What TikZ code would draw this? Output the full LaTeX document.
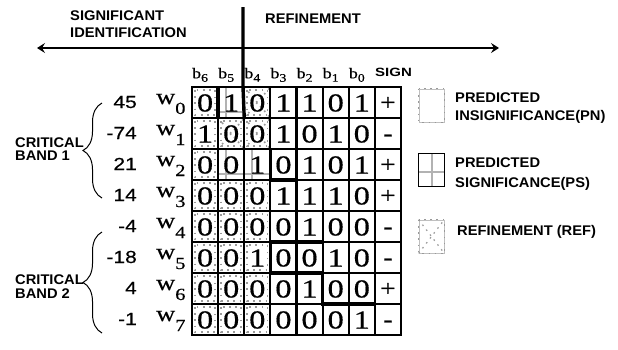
\documentclass[tikz,border=0pt]{standalone}
\usepackage{fontspec}
\usetikzlibrary{arrows.meta,decorations.pathreplacing}
\newfontfamily\labfont[FakeStretch=1.05]{Liberation Sans Bold}
\newfontfamily\signlabfont[FakeStretch=1.25]{Liberation Sans Bold}
\newfontfamily\numfont[FakeStretch=1.2,FakeBold=0.4]{Liberation Sans}
\newfontfamily\serfont[FakeStretch=1.2,FakeBold=0.5]{Liberation Serif}
\newfontfamily\digfont[FakeStretch=1.25,FakeBold=0.5]{Liberation Serif}
\newcommand\bitrow[3]{%
  \foreach \v [count=\c from 0] in {#2} {%
    \node[dig] (d#1-\c) at ({192+(\c+0.5)*26.125},{87+(#1+0.5)*31+9}) {\v};}%
  \node[sgn] (s#1) at ({192+7.5*26.125},{87+(#1+0.5)*31+7.5}) {#3};}
\newcommand\wlab[2]{{\serfont\fontsize{22}{22}\selectfont w\raisebox{-10pt}{\fontsize{17}{17}\selectfont #2}}}
\newcommand\blab[1]{{\serfont\fontsize{15}{15}\selectfont b\raisebox{-3.4pt}{\fontsize{11.5}{11.5}\selectfont #1}}}
\begin{document}
\begin{tikzpicture}[x=1pt,y=-1pt,
  grid/.style={line width=2.2pt, black},
  emph/.style={line width=3.4pt, black},
  pn/.style={gray!80, line width=1.6pt, dash pattern=on 1.6pt off 4.6pt},
  ps/.style={gray!60, line width=2.4pt},
  lab/.style={font=\labfont\fontsize{14}{14}\selectfont, inner sep=0pt, anchor=base west},
  dig/.style={font=\digfont\fontsize{26}{26}\selectfont, inner sep=0pt, anchor=base},
  sgn/.style={font=\serfont\fontsize{23}{23}\selectfont, inner sep=0pt, anchor=base},
  num/.style={font=\numfont\fontsize{17.5}{17.5}\selectfont, inner sep=0pt, anchor=base east},
  wnode/.style={inner sep=0pt, anchor=base west},
  bnode/.style={inner sep=0pt, anchor=base},
  brc/.style={decorate, decoration={brace, amplitude=19pt}, line width=1pt},
  legbox/.style={minimum width=25pt, minimum height=33pt, inner sep=0pt}
]
\useasboundingbox (0,0) rectangle (618,349);
\fill[white] (0,0) rectangle (618,349);

% top labels and arrow
\node[lab] (sig1) at (70,20) {SIGNIFICANT};
\node[lab] (sig2) at (70,37) {IDENTIFICATION};
\node[lab] (refl) at (265,23) {REFINEMENT};
\coordinate (aL) at (37,48);
\coordinate (aR) at (499,48);
\draw[line width=1.4pt, {Stealth[length=8pt,width=10pt,inset=3pt]}-{Stealth[length=8pt,width=10pt,inset=3pt]}] (aL) -- (aR);

% cell patterns
\foreach \c/\r in {0/0,0/1,0/2,0/3,0/4,0/5,0/6,0/7,1/3,1/4,1/5,1/6,1/7,2/3,2/4,2/5,2/6,2/7,2/0,1/1,2/1}
  \draw[pn] ({192+\c*26.125+3},{87+\r*31+3}) rectangle ({192+(\c+1)*26.125-3},{87+(\r+1)*31-3});
\foreach \c/\r in {2/0,1/1,2/1}
  \draw[pn] ({192+\c*26.125},{87+\r*31}) -- ({192+(\c+1)*26.125},{87+(\r+1)*31})
            ({192+\c*26.125},{87+(\r+1)*31}) -- ({192+(\c+1)*26.125},{87+\r*31});
\foreach \c/\r in {1/0,1/2,2/2}
  \draw[ps] ({192+(\c+0.3)*26.125},{87+\r*31}) -- ({192+(\c+0.3)*26.125},{87+(\r+1)*31})
            ({192+\c*26.125},{87+(\r+0.8)*31}) -- ({192+(\c+1)*26.125},{87+(\r+0.8)*31});

% grid
\foreach \c in {0,...,8}
  \draw[grid] ({192+\c*26.125},87) -- ({192+\c*26.125},335);
\foreach \r in {0,...,8}
  \draw[grid] (191,{87+\r*31}) -- (402,{87+\r*31});

% emphasised boundaries
\coordinate (sT) at (243,7);
\coordinate (sB) at (244.25,118);
\draw[emph] (sT) -- (243,87) -- (sB);
\draw[emph] (218.1,87) -- (218.1,118);
\draw[emph] (270.4,149) -- (270.4,180) -- (296.5,180) -- (296.5,211);
\draw[emph] (322.6,242) -- (270.4,242) -- (270.4,273) -- (322.6,273) -- (322.6,304) -- (375.1,304);

% header
\foreach \i [count=\c from 0] in {6,5,4,3,2,1,0}
  \node[bnode] (h\i) at ({192+(\c+0.5)*26.125-5},78.3) {\blab{\i}};
\node[lab, font=\signlabfont\fontsize{12}{12}\selectfont] (sign) at (375,76) {SIGN};

% digits
\bitrow{0}{0,1,0,1,1,0,1}{+}
\bitrow{1}{1,0,0,1,0,1,0}{-}
\bitrow{2}{0,0,1,0,1,0,1}{+}
\bitrow{3}{0,0,0,1,1,1,0}{+}
\bitrow{4}{0,0,0,0,1,0,0}{-}
\bitrow{5}{0,0,1,0,0,1,0}{-}
\bitrow{6}{0,0,0,0,1,0,0}{+}
\bitrow{7}{0,0,0,0,0,0,1}{-}

% values and w labels
\foreach \v [count=\r from 0] in {45,-74,21,14,-4,-18,4,-1} {
  \node[num] (n\r) at (137,{87+(\r+0.5)*31+5.5}) {\v};
  \node[wnode] (w\r) at (156,{87+(\r+0.5)*31+1.5}) {\wlab{w}{\r}};
}

% braces
\coordinate (b1s) at (102,198);
\coordinate (b1e) at (102,103);
\draw[brc] (b1s) -- (b1e);
\coordinate (b2s) at (102,333);
\coordinate (b2e) at (102,232);
\draw[brc] (b2s) -- (b2e);
\node[lab] (cb1a) at (15,147) {CRITICAL};
\node[lab] (cb1b) at (15,160) {BAND 1};
\node[lab] (cb2a) at (15,284) {CRITICAL};
\node[lab] (cb2b) at (15,298) {BAND 2};

% legend
\node[legbox, draw=gray!50, line width=0.6pt] (lpn) at (431.5,105.5) {};
\draw[pn, line width=1.2pt] (lpn.north west) rectangle (lpn.south east);
\node[legbox] (lps) at (431.5,170) {};
\draw[ps, line width=2pt] (lps.north) -- (lps.south) ([yshift=-2pt]lps.west) -- ([yshift=-2pt]lps.east);
\draw[black, line width=0.8pt] (lps.north west) rectangle (lps.south east);
\node[legbox, draw=gray!50, line width=0.6pt] (lref) at (431.5,236.5) {};
\draw[pn, line width=1.2pt] (lref.north west) rectangle (lref.south east);
\draw[pn, line width=1.2pt] (lref.north west) -- (lref.south east) (lref.south west) -- (lref.north east);
\node[lab] (l1a) at (455,102) {PREDICTED};
\node[lab] (l1b) at (455,120) {INSIGNIFICANCE(PN)};
\node[lab] (l2a) at (455,167) {PREDICTED};
\node[lab] (l2b) at (455,187) {SIGNIFICANCE(PS)};
\node[lab] (l3) at (457,235) {REFINEMENT (REF)};
\end{tikzpicture}
\end{document}
